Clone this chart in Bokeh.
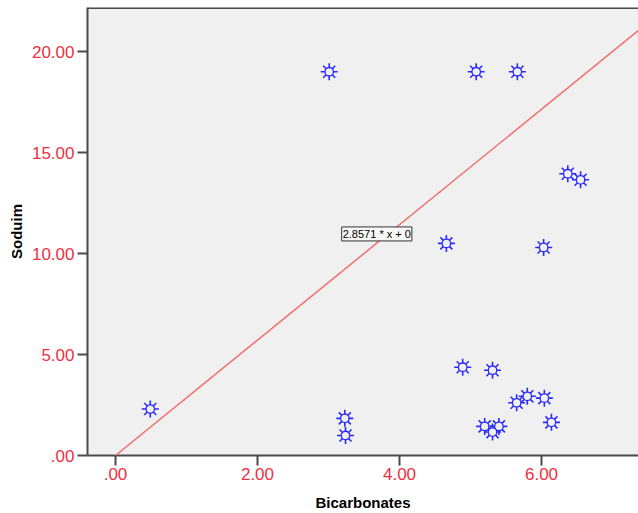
import math
from bokeh.plotting import figure
from bokeh.models import Range1d, Slope, Label, Span, FixedTicker, ColumnDataSource
from bokeh.embed import file_html
from bokeh.resources import INLINE

bicarbonates = [0.49, 3.01, 5.08, 5.66, 4.66, 6.03, 6.37, 6.55, 3.23, 3.24,
                4.89, 5.31, 5.65, 5.80, 6.04, 5.20, 5.40, 5.31, 6.14]
sodium = [2.30, 19.0, 19.0, 19.0, 10.5, 10.3, 13.95, 13.65, 1.84, 0.99,
          4.37, 4.22, 2.61, 2.93, 2.84, 1.44, 1.44, 1.16, 1.64]
slope_value = 2.8571
intercept_value = 0.0
x_ticks = [0, 2, 4, 6]
y_ticks = [0, 5, 10, 15, 20]
x_tick_labels = {0: ".00", 2: "2.00", 4: "4.00", 6: "6.00"}
y_tick_labels = {0: ".00", 5: "5.00", 10: "10.00", 15: "15.00", 20: "20.00"}

FONT = "Liberation Sans"
BG = "#f0f0f0"
AX = "#4a4a4a"
RED = "#ee3040"
BLUE = "#2a2aff"

p = figure(width=638, height=513, output_backend="svg", toolbar_location=None,
           x_range=Range1d(-0.394, 7.366), y_range=Range1d(0, 22.18),
           min_border_left=87, min_border_right=0, min_border_top=7,
           min_border_bottom=58)
p.background_fill_color = BG
p.border_fill_color = "white"
p.outline_line_color = None
p.grid.visible = False

src = ColumnDataSource(dict(x=bicarbonates, y=sodium))

# eight-pointed star markers: two crosses plus a hollow core
for ang in (0, math.pi / 4):
    p.scatter("x", "y", source=src, marker="cross", size=17, angle=ang,
              line_color=BLUE, line_width=1.6)
p.scatter("x", "y", source=src, marker="circle", size=8.5,
          fill_color=BG, line_color=BLUE, line_width=1.3)

p.add_layout(Slope(gradient=slope_value, y_intercept=intercept_value,
                   line_color="#f07070", line_width=1.5))

p.add_layout(Label(x=3.68, y=10.97, text=f"{slope_value} * x + {intercept_value:g}",
                   text_font=FONT, text_font_size="11px", text_color="black",
                   text_align="center", text_baseline="middle",
                   background_fill_color="#f8f8f8", border_line_color="#333333",
                   border_line_width=1, padding=1))

p.add_layout(Span(location=22.18, dimension="width", line_color=AX, line_width=3))

for ax, ticks, labels in ((p.xaxis, x_ticks, x_tick_labels), (p.yaxis, y_ticks, y_tick_labels)):
    ax.ticker = FixedTicker(ticks=ticks)
    ax.major_label_overrides = labels
    ax.minor_tick_line_color = None
    ax.axis_line_color = AX
    ax.axis_line_width = 2
    ax.major_tick_line_color = AX
    ax.major_tick_line_width = 2
    ax.major_tick_out = 10
    ax.major_tick_in = 0
    ax.major_label_text_font = FONT
    ax.major_label_text_font_size = "17px"
    ax.major_label_text_color = RED
    ax.axis_label_text_font = FONT
    ax.axis_label_text_font_size = "15px"
    ax.axis_label_text_font_style = "bold"
    ax.axis_label_text_color = "black"

p.xaxis.major_label_standoff = 2
p.yaxis.major_label_standoff = 3
p.xaxis.axis_label = "Bicarbonates"
p.yaxis.axis_label = "Soduim"
p.xaxis.axis_label_standoff = 11
p.yaxis.axis_label_standoff = 4

open("out.html", "w").write(file_html(p, INLINE))
